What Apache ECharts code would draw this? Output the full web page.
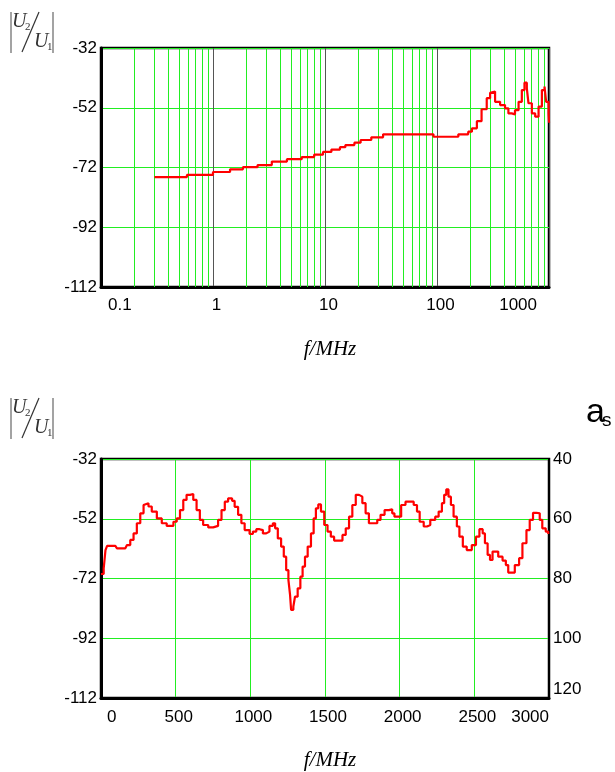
<!DOCTYPE html>
<html><head><meta charset="utf-8">
<script src="https://cdn.jsdelivr.net/npm/echarts@6/dist/echarts.min.js"></script>
<style>html,body{margin:0;padding:0;background:#fff}#c{width:615px;height:772px}</style>
</head><body><div id="c"></div>
<script>
// ---- data ----
const topFreq = [0.30, 0.585, 1.0, 1.42, 1.85, 2.5, 3.35, 4.57, 6.2, 8.0, 9.6, 11.4, 13.6, 15.2, 18.3, 20.8, 25.9, 33, 93, 155, 190, 205, 227, 250, 278, 298, 308, 330, 366, 405, 434, 465, 497, 535, 572, 604, 634, 656, 703, 753, 807, 864, 912, 943, 991, 1000];
const topGain = [-75.2, -74.5, -73.5, -72.6, -71.9, -71.2, -70.0, -69.2, -68.5, -67.7, -66.8, -66.0, -65.2, -64.5, -63.7, -62.8, -61.9, -60.9, -61.7, -60.9, -60.0, -58.9, -56.5, -52.5, -48.8, -47.0, -46.6, -50.0, -51.1, -52.2, -53.9, -54.2, -52.8, -50.0, -46.1, -43.6, -45.5, -50.5, -53.9, -55.0, -51.6, -46.1, -44.9, -50.0, -53.9, -57.0];
const topMinorLines = [0.2,0.3,0.4,0.5,0.6,0.7,0.8,0.9, 2,3,4,5,6,7,8,9, 20,30,40,50,60,70,80,90, 200,300,400,500,600,700,800,900];
const topXTicks = [0.1, 1, 10, 100, 1000];

const botFreq = [0, 18, 30, 41, 96, 107, 163, 174, 196, 218, 240, 263, 285, 296, 318, 340, 374, 407, 440, 462, 485, 507, 529, 551, 573, 596, 618, 640, 662, 684, 718, 751, 784, 807, 829, 851, 878, 895, 918, 940, 962, 995, 1017, 1040, 1062, 1084, 1106, 1128, 1151, 1166, 1184, 1206, 1224, 1240, 1255, 1266, 1273, 1288, 1299, 1317, 1335, 1350, 1366, 1384, 1406, 1424, 1439, 1455, 1473, 1495, 1517, 1539, 1561, 1595, 1617, 1639, 1661, 1683, 1706, 1728, 1750, 1772, 1794, 1828, 1850, 1872, 1899, 1928, 1950, 1965, 1988, 2010, 2039, 2072, 2094, 2116, 2134, 2161, 2183, 2205, 2238, 2261, 2283, 2298, 2312, 2327, 2343, 2361, 2383, 2400, 2423, 2449, 2483, 2511, 2534, 2556, 2571, 2589, 2605, 2622, 2638, 2660, 2689, 2711, 2727, 2749, 2771, 2800, 2822, 2849, 2871, 2893, 2915, 2938, 2955, 2978, 2995];
const botGain = [-70.5, -68.6, -62.5, -61.1, -61.1, -61.9, -61.9, -60.8, -59.1, -56.9, -53.5, -50.2, -47.4, -46.8, -47.9, -49.6, -51.9, -53.5, -54.4, -54.4, -53.0, -51.9, -49.1, -45.7, -44.0, -43.7, -45.7, -49.1, -52.4, -54.1, -54.9, -54.4, -52.4, -49.1, -46.3, -45.2, -46.0, -48.0, -50.7, -53.5, -55.8, -57.1, -56.3, -55.5, -55.8, -56.9, -56.3, -54.4, -53.5, -55.2, -58.6, -61.3, -64.7, -69.2, -72.5, -77.5, -82.5, -81.4, -78.1, -75.3, -71.4, -68.0, -64.7, -61.3, -56.9, -51.9, -48.5, -47.2, -49.6, -54.1, -56.3, -58.0, -59.3, -59.3, -57.4, -55.2, -51.3, -47.4, -44.0, -44.6, -46.8, -50.2, -53.5, -53.5, -52.4, -50.7, -49.1, -48.8, -50.2, -51.3, -51.3, -47.4, -46.3, -46.3, -47.4, -49.6, -53.0, -54.6, -54.1, -52.4, -51.3, -49.6, -46.8, -44.0, -42.2, -44.6, -47.4, -51.3, -54.6, -58.0, -61.3, -62.5, -60.8, -58.0, -55.5, -56.9, -60.2, -64.1, -65.8, -63.0, -63.0, -64.7, -66.0, -67.5, -70.0, -70.0, -67.5, -65.2, -60.2, -55.8, -52.4, -50.0, -50.2, -52.4, -55.2, -56.3, -57.1];
const botXTicks = [0, 500, 1000, 1500, 2000, 2500, 3000];
const gainTicks = [-112, -92, -72, -52, -32];
const asTicks = [40, 60, 80, 100, 120];
const xLabel = 'f/MHz';

// ---- styles ----
const GREEN = '#22ee22';
const RED = '#ff0000';
const SANS = "'Liberation Sans', Arial, sans-serif";
const SERIF = "'Liberation Serif', 'Times New Roman', serif";
const labelBase = {color: '#000', fontSize: 17, fontFamily: SANS};

function yGain(gi) {
  return {
    type: 'value', gridIndex: gi, min: gainTicks[0], max: gainTicks[gainTicks.length - 1],
    interval: gainTicks[1] - gainTicks[0],
    axisLine: {show: true, onZero: false, lineStyle: {color: '#000', width: 3}},
    axisTick: {show: false},
    splitLine: {show: true, lineStyle: {color: GREEN, width: 1}},
    axisLabel: Object.assign({margin: 4, formatter: v => String(v)}, labelBase)
  };
}
const nameStyle = {fontFamily: SERIF, fontStyle: 'italic', fontSize: 21, color: '#000', padding: [0, 0, 0, 10]};

const chart = echarts.init(document.getElementById('c'), null, {renderer: 'canvas'});

function fracGraphic(oy) {
  const c = '#333';
  return [
    {type: 'line', shape: {x1: 11, y1: 12 + oy, x2: 11, y2: 53 + oy}, style: {stroke: '#666', lineWidth: 1.2}},
    {type: 'line', shape: {x1: 53, y1: 12 + oy, x2: 53, y2: 53 + oy}, style: {stroke: '#666', lineWidth: 1.2}},
    {type: 'line', shape: {x1: 22, y1: 52 + oy, x2: 39, y2: 12 + oy}, style: {stroke: c, lineWidth: 1.2}},
    {type: 'text', x: 12, y: 12 + oy, style: {text: 'U', font: 'italic 20px ' + SERIF, fill: c}},
    {type: 'text', x: 25, y: 22 + oy, style: {text: '2', font: '11px ' + SERIF, fill: c}},
    {type: 'text', x: 34, y: 32 + oy, style: {text: 'U', font: 'italic 20px ' + SERIF, fill: c}},
    {type: 'text', x: 47, y: 42 + oy, style: {text: '1', font: '11px ' + SERIF, fill: c}}
  ];
}

const option = {
  animation: false,
  backgroundColor: '#fff',
  grid: [
    {left: 101, top: 48, width: 448, height: 239, show: true, borderColor: '#000', borderWidth: 2.5, backgroundColor: 'transparent'},
    {left: 101, top: 459, width: 448, height: 239, show: true, borderColor: '#000', borderWidth: 2.5, backgroundColor: 'transparent'}
  ],
  xAxis: [
    {
      type: 'log', gridIndex: 0, logBase: 10, min: topXTicks[0], max: topXTicks[topXTicks.length - 1],
      axisLine: {show: true, onZero: false, lineStyle: {color: '#000', width: 3}},
      axisTick: {show: false},
      splitLine: {show: true, lineStyle: {color: '#555', width: 1}},
      axisLabel: Object.assign({
        margin: 10, alignMinLabel: 'left', alignMaxLabel: 'right', padding: [0, 0, 0, 7],
        formatter: function (v) {
          const s = String(Number(Number(v).toPrecision(3)));
          return v >= topXTicks[topXTicks.length - 1] * 0.999 ? '{m|' + s + '}' : s;
        },
        rich: {m: {padding: [0, 12, 0, 0], fontSize: 17, fontFamily: SANS, color: '#000'}}
      }, labelBase),
      name: xLabel, nameLocation: 'middle', nameGap: 52, nameTextStyle: nameStyle
    },
    {
      type: 'value', gridIndex: 1, min: botXTicks[0], max: botXTicks[botXTicks.length - 1],
      interval: botXTicks[1] - botXTicks[0],
      axisLine: {show: true, onZero: false, lineStyle: {color: '#000', width: 3}},
      axisTick: {show: false},
      splitLine: {show: true, lineStyle: {color: GREEN, width: 1}},
      axisLabel: Object.assign({margin: 11, alignMinLabel: 'left', alignMaxLabel: 'right', padding: [0, 0, 0, 6], formatter: v => String(v)}, labelBase),
      name: xLabel, nameLocation: 'middle', nameGap: 52, nameTextStyle: nameStyle
    }
  ],
  yAxis: [
    yGain(0),
    yGain(1),
    {
      type: 'value', gridIndex: 1, position: 'right', inverse: true,
      min: asTicks[0], max: asTicks[asTicks.length - 1], interval: asTicks[1] - asTicks[0],
      axisLine: {show: true, onZero: false, lineStyle: {color: '#000', width: 2}},
      axisTick: {show: false}, splitLine: {show: false},
      axisLabel: Object.assign({margin: 4, verticalAlignMaxLabel: 'bottom', formatter: v => String(v)}, labelBase)
    }
  ],
  series: [
    {
      type: 'line', xAxisIndex: 0, yAxisIndex: 0, data: [], z: 1, silent: true,
      markLine: {
        silent: true, symbol: ['none', 'none'], label: {show: false},
        lineStyle: {color: GREEN, width: 1, type: 'solid'},
        data: topMinorLines.map(v => ({xAxis: v})), animation: false
      }
    },
    {
      type: 'line', xAxisIndex: 0, yAxisIndex: 0, step: 'end', showSymbol: false, symbol: 'none', z: 5,
      lineStyle: {color: RED, width: 2.2}, data: topFreq.map((f, i) => [f, topGain[i]])
    },
    {
      type: 'line', xAxisIndex: 1, yAxisIndex: 1, step: 'end', showSymbol: false, symbol: 'none', z: 5,
      lineStyle: {color: RED, width: 2.2}, data: botFreq.map((f, i) => [f, botGain[i]])
    }
  ],
  graphic: [].concat(
    fracGraphic(0),
    fracGraphic(386),
    [
      {type: 'text', x: 586, y: 413, style: {text: 'a', font: '34px ' + SANS, fill: '#000', verticalAlign: 'middle'}},
      {type: 'text', x: 602, y: 421, style: {text: 's', font: '19px ' + SANS, fill: '#000', verticalAlign: 'middle'}}
    ]
  )
};
chart.setOption(option);
</script></body></html>
